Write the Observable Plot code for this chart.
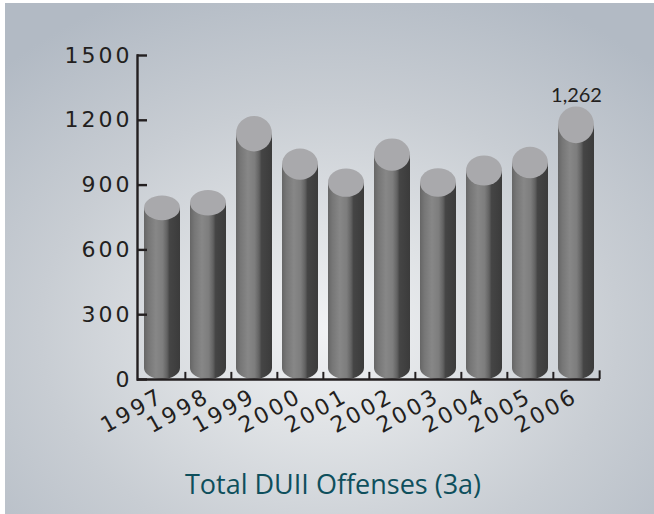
<!DOCTYPE html>
<html>
<head>
<meta charset="utf-8">
<script src="https://cdn.jsdelivr.net/npm/d3@7"></script>
<script src="https://cdn.jsdelivr.net/npm/@observablehq/plot@0.6"></script>
<style>
  html, body { margin: 0; padding: 0; background: #ffffff; }
  #page { position: relative; width: 654px; height: 514px; overflow: hidden; background: #ffffff; }
  #panel { position: absolute; left: 5px; top: 3px; right: 0; bottom: 0;
    background: radial-gradient(ellipse 72% 72% at 50% 64%, #f1f2f4 0%, #dfe2e5 28%, #c8cdd3 62%, #b2bac4 100%); }
  #chart { position: absolute; left: 0; top: 0; }
  #title { position: absolute; left: 0; width: 666px; top: 468px; text-align: center;
    font-family: "Open Sans", "Noto Sans", sans-serif; font-size: 27px; line-height: 32px; color: #0e4f5c; }
</style>
</head>
<body>
<div id="page">
  <div id="panel"></div>
  <div id="chart"></div>
  <div id="title"></div>
</div>
<script>
const years = ["1997", "1998", "1999", "2000", "2001", "2002", "2003", "2004", "2005", "2006"];
const offenses = [850, 875, 1218, 1067, 975, 1114, 976, 1035, 1075, 1262];
const yTicks = [0, 300, 600, 900, 1200, 1500];
const labeledYears = ["2006"];
const titleText = "Total DUII Offenses (3a)";

const data = years.map((year, i) => ({year, value: offenses[i]}));
const labeled = data.filter(d => labeledYears.includes(d.year));

const W = 654, H = 460, ML = 137, MR = 54, MT = 55, MB = 81;
const PI = 0.22, PO = 0.11;
const step = (W - ML - MR) / (years.length - PI + 2 * PO);
const CAP = 0.0675;   // cap half-height relative to bar pixel height
const BASE_R = 11;    // rounded base radius (px)
const ink = "#231f20";
const axisFont = "'DejaVu Sans', sans-serif";

const gradientDefs = () => {
  const g = d3.create("svg:g");
  const lg = g.append("defs").append("linearGradient")
    .attr("id", "cyl").attr("x1", 0).attr("x2", 1).attr("y1", 0).attr("y2", 0);
  [[0, "#666666"], [0.12, "#767676"], [0.33, "#878787"], [0.52, "#7d7d7d"],
   [0.64, "#626262"], [0.71, "#454545"], [1, "#3b3b3b"]]
    .forEach(([o, c]) => lg.append("stop").attr("offset", o).attr("stop-color", c));
  return g.node();
};

const cylinderEnds = (index, scales) => {
  const x = scales.x, y = scales.y;
  const g = d3.create("svg:g");
  const bw = x.bandwidth(), y0 = y(0);
  for (const d of data) {
    const l = x(d.year), r = l + bw, cx = l + bw / 2, rx = bw / 2;
    const top = y(d.value), ry = CAP * (y0 - top);
    g.append("path").attr("fill", "url(#cyl)")
      .attr("d", `M${l},${y0 - BASE_R - 1}L${l},${y0 - BASE_R}A${rx},${BASE_R} 0 0 0 ${r},${y0 - BASE_R}L${r},${y0 - BASE_R - 1}Z`);
    g.append("ellipse").attr("cx", cx).attr("cy", top + ry)
      .attr("rx", rx).attr("ry", ry).attr("fill", "#a9a9ac");
  }
  return g.node();
};

const chart = Plot.plot({
  width: W, height: H,
  marginLeft: ML, marginRight: MR, marginTop: MT, marginBottom: MB,
  style: {background: "transparent", overflow: "visible", color: ink},
  x: {domain: years, paddingInner: PI, paddingOuter: PO, axis: null, label: null},
  y: {domain: [0, 1500], axis: null, label: null},
  marks: [
    gradientDefs,
    Plot.barY(data, {x: "year", y1: 0, y2: d => d.value * (1 - CAP), fill: "url(#cyl)", insetBottom: BASE_R}),
    cylinderEnds,
    Plot.ruleX(years.slice(1), {x: d => d, y1: 0, y2: 33, dx: -step / 2, stroke: ink, strokeWidth: 2}),
    Plot.ruleX(years.slice(-1), {x: d => d, y1: 0, y2: 40, dx: step / 2, stroke: ink, strokeWidth: 2}),
    Plot.ruleY([0], {stroke: ink, strokeWidth: 2.4}),
    Plot.frame({anchor: "left", stroke: ink, strokeWidth: 2.4}),
    Plot.axisY(yTicks, {anchor: "left", label: null, tickSize: 10, dx: 10, tickFormat: () => "", stroke: ink, strokeWidth: 2.4}),
    Plot.axisY(yTicks, {anchor: "left", label: null, tickSize: 0, tickPadding: 5, tickFormat: d3.format("d"),
      fontSize: 22, fontFamily: axisFont, fill: ink}),
    Plot.text(data, {x: "year", y: 0, text: "year", rotate: -29, textAnchor: "end", lineAnchor: "bottom",
      dx: 3, dy: 21, fontSize: 22, fontFamily: axisFont, fill: ink}),
    Plot.text(labeled, {x: "year", y: "value", text: d => d3.format(",")(d.value), lineAnchor: "bottom",
      dy: -5, fontSize: 20, fontFamily: "Lato, sans-serif", fill: ink})
  ]
});
// letter spacing for the wide geometric axis lettering
const sel = d3.select(chart);
sel.selectAll('g[aria-label="y-axis tick label"] text').style("letter-spacing", "3px");
sel.selectAll('g[aria-label="text"]').filter((_, i) => i === 0).selectAll("text").style("letter-spacing", "3px");
document.getElementById("chart").appendChild(chart);
document.getElementById("title").textContent = titleText;
</script>
</body>
</html>
